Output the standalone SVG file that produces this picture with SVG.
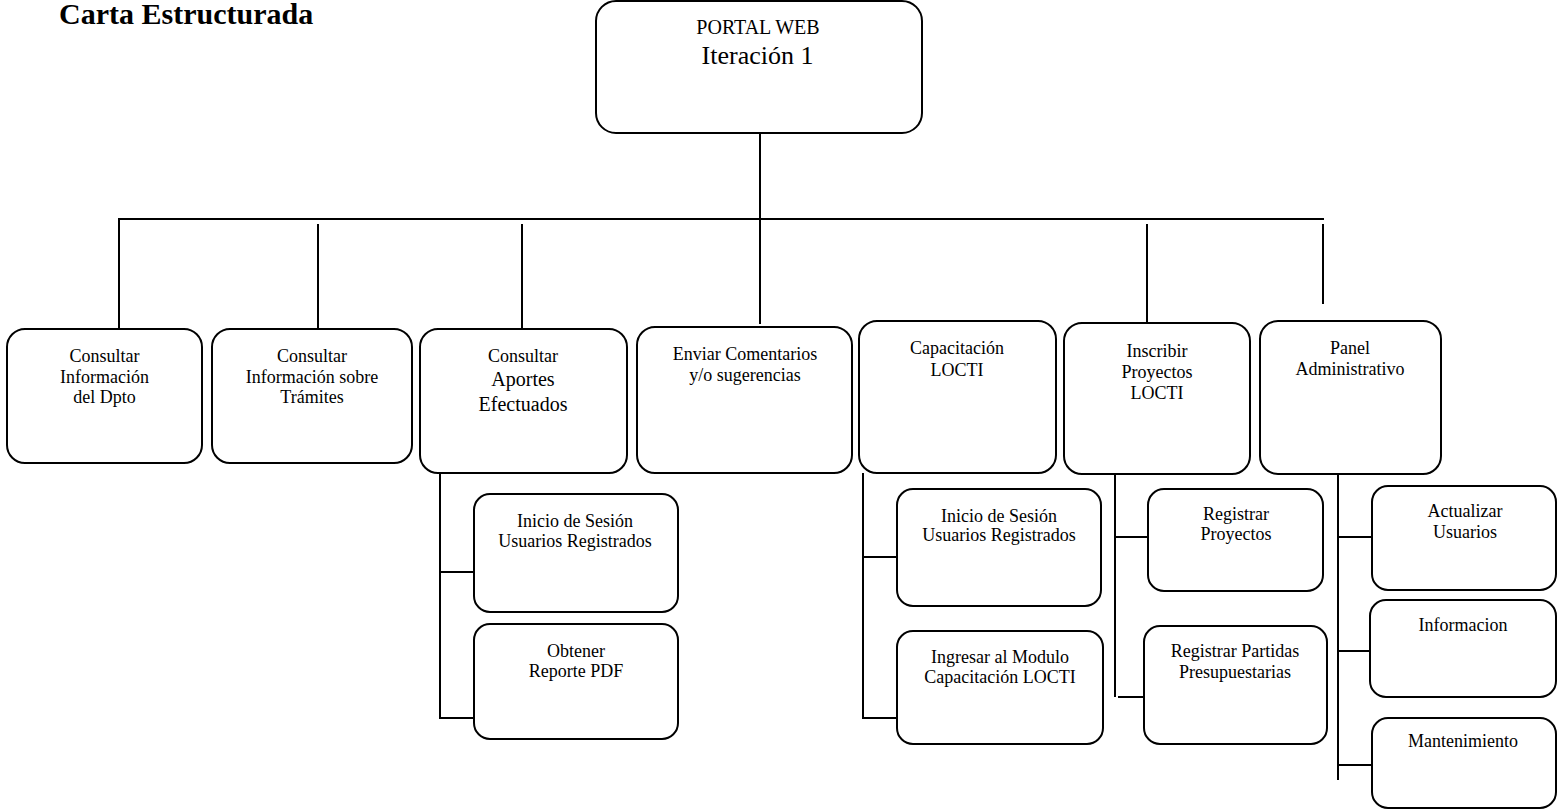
<svg xmlns="http://www.w3.org/2000/svg" width="1558" height="810" viewBox="0 0 1558 810">
<style>
.box{fill:#fff;stroke:#000;stroke-width:2}
.ln{stroke:#000;stroke-width:2;fill:none}
.t{font-family:"Liberation Serif","Times New Roman",serif;font-size:18px;text-anchor:middle;fill:#000}
.big{font-size:20px}
</style>
<rect width="1558" height="810" fill="#fff"/>
<text x="59" y="24" style="font-family:'Liberation Serif','Times New Roman',serif;font-size:30px;font-weight:bold">Carta Estructurada</text>
<g id="connectors">
<line class="ln" x1="760" y1="133" x2="760" y2="324"/>
<line class="ln" x1="118" y1="219" x2="1324" y2="219"/>
<line class="ln" x1="119" y1="219" x2="119" y2="329"/>
<line class="ln" x1="318" y1="224" x2="318" y2="329"/>
<line class="ln" x1="522" y1="224" x2="522" y2="329"/>
<line class="ln" x1="1147" y1="224" x2="1147" y2="330"/>
<line class="ln" x1="1323" y1="224" x2="1323" y2="304"/>
<line class="ln" x1="440" y1="473" x2="440" y2="719"/>
<line class="ln" x1="440" y1="572" x2="474" y2="572"/>
<line class="ln" x1="440" y1="718" x2="474" y2="718"/>
<line class="ln" x1="863" y1="473" x2="863" y2="719"/>
<line class="ln" x1="863" y1="557" x2="897" y2="557"/>
<line class="ln" x1="863" y1="718" x2="899" y2="718"/>
<line class="ln" x1="1115" y1="474" x2="1115" y2="697"/>
<line class="ln" x1="1115" y1="537" x2="1148" y2="537"/>
<line class="ln" x1="1118" y1="697" x2="1148" y2="697"/>
<line class="ln" x1="1338" y1="474" x2="1338" y2="780"/>
<line class="ln" x1="1338" y1="537" x2="1372" y2="537"/>
<line class="ln" x1="1338" y1="651" x2="1373" y2="651"/>
<line class="ln" x1="1338" y1="765" x2="1372" y2="765"/>
</g>
<g id="root">
<rect class="box" x="596" y="1" width="326" height="132" rx="20"/>
<text class="t big" x="758" y="34">PORTAL WEB</text>
<text class="t" x="757.5" y="64" style="font-size:26px">Iteración 1</text>
</g>
<g id="n1">
<rect class="box" x="7" y="329" width="195" height="134" rx="18"/>
<text class="t" x="104.5" y="362">Consultar</text>
<text class="t" x="104.5" y="383">Información</text>
<text class="t" x="104.5" y="403">del Dpto</text>
</g>
<g id="n2">
<rect class="box" x="212" y="329" width="200" height="134" rx="18"/>
<text class="t" x="312" y="362">Consultar</text>
<text class="t" x="312" y="383">Información sobre</text>
<text class="t" x="312" y="403">Trámites</text>
</g>
<g id="n3">
<rect class="box" x="420" y="329" width="207" height="144" rx="18"/>
<text class="t" x="523" y="362">Consultar</text>
<text class="t big" x="523" y="386">Aportes</text>
<text class="t big" x="523" y="411">Efectuados</text>
</g>
<g id="n4">
<rect class="box" x="637" y="327" width="215" height="146" rx="18"/>
<text class="t" x="745" y="360">Enviar Comentarios</text>
<text class="t" x="745" y="381">y/o sugerencias</text>
</g>
<g id="n5">
<rect class="box" x="859" y="321" width="197" height="152" rx="18"/>
<text class="t" x="957" y="354">Capacitación</text>
<text class="t" x="957" y="376">LOCTI</text>
</g>
<g id="n6">
<rect class="box" x="1064" y="323" width="186" height="151" rx="18"/>
<text class="t" x="1157" y="357">Inscribir</text>
<text class="t" x="1157" y="378">Proyectos</text>
<text class="t" x="1157" y="399">LOCTI</text>
</g>
<g id="n7">
<rect class="box" x="1260" y="321" width="181" height="153" rx="18"/>
<text class="t" x="1350" y="354">Panel</text>
<text class="t" x="1350" y="375">Administrativo</text>
</g>
<g id="a1">
<rect class="box" x="474" y="494" width="204" height="118" rx="16"/>
<text class="t" x="575" y="527">Inicio de Sesión</text>
<text class="t" x="575" y="547">Usuarios Registrados</text>
</g>
<g id="a2">
<rect class="box" x="474" y="624" width="204" height="115" rx="16"/>
<text class="t" x="576" y="657">Obtener</text>
<text class="t" x="576" y="677">Reporte PDF</text>
</g>
<g id="c1">
<rect class="box" x="897" y="489" width="204" height="117" rx="16"/>
<text class="t" x="999" y="522">Inicio de Sesión</text>
<text class="t" x="999" y="541">Usuarios Registrados</text>
</g>
<g id="c2">
<rect class="box" x="897" y="631" width="206" height="113" rx="16"/>
<text class="t" x="1000" y="663">Ingresar al Modulo</text>
<text class="t" x="1000" y="683">Capacitación LOCTI</text>
</g>
<g id="i1">
<rect class="box" x="1148" y="489" width="175" height="102" rx="16"/>
<text class="t" x="1236" y="520">Registrar</text>
<text class="t" x="1236" y="540">Proyectos</text>
</g>
<g id="i2">
<rect class="box" x="1144" y="626" width="183" height="118" rx="16"/>
<text class="t" x="1235" y="657">Registrar Partidas</text>
<text class="t" x="1235" y="678">Presupuestarias</text>
</g>
<g id="p1">
<rect class="box" x="1372" y="486" width="184" height="104" rx="16"/>
<text class="t" x="1465" y="517">Actualizar</text>
<text class="t" x="1465" y="538">Usuarios</text>
</g>
<g id="p2">
<rect class="box" x="1370" y="600" width="186" height="97" rx="16"/>
<text class="t" x="1463" y="631">Informacion</text>
</g>
<g id="p3">
<rect class="box" x="1372" y="718" width="184" height="90" rx="16"/>
<text class="t" x="1463" y="747">Mantenimiento</text>
</g>
</svg>
